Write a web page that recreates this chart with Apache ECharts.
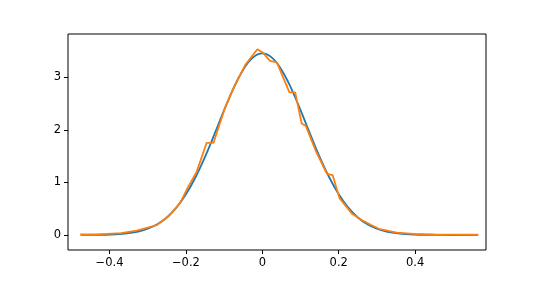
<!DOCTYPE html>
<html>
<head>
<meta charset="utf-8">
<script src="https://cdn.jsdelivr.net/npm/echarts@6/dist/echarts.min.js"></script>
<style>html,body{margin:0;padding:0;background:#fff;}#c{width:540px;height:281px;}</style>
</head>
<body>
<div id="c"></div>
<script>
// Smooth (blue) curve
const blueX = [-0.475,-0.45,-0.425,-0.4,-0.375,-0.35,-0.325,-0.3,-0.275,-0.25,-0.225,-0.2,-0.175,-0.15,-0.125,-0.1,-0.075,-0.05,-0.025,0,0.025,0.05,0.075,0.1,0.125,0.15,0.175,0.2,0.225,0.25,0.275,0.3,0.325,0.35,0.375,0.4,0.425,0.45,0.475,0.5,0.525,0.55,0.565];
const blueY = [0.0007,0.0018,0.004,0.0087,0.0179,0.0353,0.0664,0.119,0.204,0.333,0.520,0.773,1.097,1.485,1.922,2.373,2.796,3.142,3.370,3.45,3.370,3.142,2.796,2.373,1.922,1.485,1.097,0.773,0.520,0.333,0.204,0.119,0.0664,0.0353,0.0179,0.0087,0.004,0.0018,0.0007,0.0003,0.0001,0,0];
const orangeX = [-0.477,-0.44,-0.407,-0.37,-0.329,-0.276,-0.245,-0.215,-0.194,-0.172,-0.146,-0.128,-0.098,-0.076,-0.045,-0.013,0.001,0.020,0.038,0.071,0.086,0.103,0.114,0.14,0.169,0.184,0.202,0.234,0.26,0.285,0.308,0.352,0.395,0.45,0.565];
const orangeY = [0.01,0.012,0.02,0.035,0.085,0.19,0.36,0.61,0.92,1.2,1.75,1.75,2.41,2.78,3.23,3.53,3.47,3.31,3.28,2.71,2.71,2.12,2.07,1.6,1.16,1.14,0.70,0.41,0.285,0.19,0.11,0.045,0.02,0.01,0.005];
const xTicks = [-0.4,-0.2,0,0.2,0.4];
const yTicks = [0,1,2,3];

const chart = echarts.init(document.getElementById('c'), null, {renderer:'canvas'});
const fmt = v => { const s = (Math.round(v*10)/10).toString(); return s.replace('-', '\u2212'); };
const font = {fontFamily:'DejaVu Sans', fontSize:11.5, color:'#000'};
chart.setOption({
  animation:false,
  backgroundColor:'#fff',
  grid:{left:68,right:54,top:34,bottom:31,show:true,borderColor:'#000',borderWidth:1,backgroundColor:'transparent'},
  xAxis:{type:'value',min:-0.5087,max:0.5855,position:'bottom',
    axisLine:{show:false,onZero:false},
    splitLine:{show:false},
    axisTick:{show:true,length:4,inside:false,lineStyle:{color:'#000',width:1},customValues:xTicks},
    axisLabel:Object.assign({margin:7,customValues:xTicks,formatter:fmt},font)},
  yAxis:{type:'value',min:-0.285,max:3.82,position:'left',
    axisLine:{show:false,onZero:false},
    splitLine:{show:false},
    axisTick:{show:true,length:4,inside:false,lineStyle:{color:'#000',width:1},customValues:yTicks},
    axisLabel:Object.assign({margin:7,customValues:yTicks,formatter:v=>String(v)},font)},
  series:[
    {type:'line',data:blueX.map((x,i)=>[x,blueY[i]]),showSymbol:false,smooth:0.4,
     lineStyle:{color:'#1f77b4',width:1.8},z:2},
    {type:'line',data:orangeX.map((x,i)=>[x,orangeY[i]]),showSymbol:false,smooth:false,
     lineStyle:{color:'#ff7f0e',width:1.8},z:3}
  ]
});
</script>
</body>
</html>
